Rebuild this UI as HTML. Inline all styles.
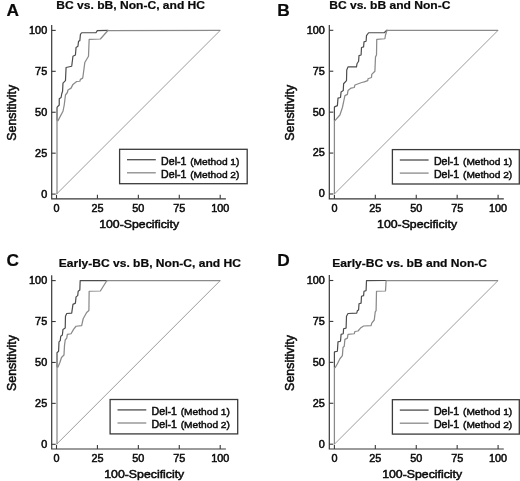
<!DOCTYPE html>
<html><head><meta charset="utf-8"><title>ROC</title>
<style>
html,body{margin:0;padding:0;background:#fff;}
svg{display:block;will-change:transform;}
text{font-family:"Liberation Sans",sans-serif;fill:#0a0a0a;stroke:#0a0a0a;stroke-width:0.5px;}
.tk{font-size:10.5px;}
.al{font-size:11.4px;}
.pl{font-size:17.3px;font-weight:bold;stroke-width:0.2px;}
.tt{font-size:10.7px;font-weight:bold;stroke-width:0.2px;}
.lg{font-size:10.6px;}
.lgs{font-size:9.9px;stroke-width:0.45px;}
</style></head><body>
<svg width="520" height="481" viewBox="0 0 520 481">
<rect width="520" height="481" fill="#fff"/>
<g id="panelA">
<line x1="56.50" y1="194.10" x2="220.20" y2="30.40" stroke="#9c9c9c" stroke-width="1"/>
<polyline points="57.00,120.70 57.00,107.50 57.40,106.90 59.24,105.00 59.24,98.75 61.09,97.50 61.74,93.75 62.58,91.25 62.98,83.10 65.47,80.60 66.07,67.50 71.70,66.25 72.95,56.25 75.44,55.00 76.04,47.50 77.94,46.25 78.53,41.25 79.83,40.60 80.43,34.40 81.67,32.75 95.98,32.75 97.28,30.60 108.34,30.40" fill="none" stroke="#4c4c4c" stroke-width="1.2" stroke-linejoin="round"/>
<polyline points="57.00,194.10 57.00,121.00 58.00,120.60 62.98,111.25 64.23,105.00 65.47,95.00 67.37,92.50 67.97,90.00 71.06,88.10 72.95,84.40 76.69,81.50 79.83,81.25 80.43,79.40 82.67,78.10 83.17,75.00 84.81,62.50 88.50,56.25 89.15,39.40 100.37,39.00 107.25,31.25 107.84,30.50 220.30,30.40" fill="none" stroke="#8a8a8a" stroke-width="1.25" stroke-linejoin="round"/>
<path d="M51.70,25.00 V198.80 H225.90" fill="none" stroke="#383838" stroke-width="1.2"/>
<line x1="51.70" y1="194.10" x2="55.70" y2="194.10" stroke="#383838" stroke-width="1.1"/>
<line x1="56.50" y1="198.80" x2="56.50" y2="194.80" stroke="#383838" stroke-width="1.1"/>
<text class="tk" transform="translate(47.20,197.50) scale(1.035,1)" text-anchor="end">0</text>
<text class="tk" transform="translate(56.50,212.10) scale(1.035,1)" text-anchor="middle">0</text>
<line x1="51.70" y1="153.18" x2="55.70" y2="153.18" stroke="#383838" stroke-width="1.1"/>
<line x1="97.42" y1="198.80" x2="97.42" y2="194.80" stroke="#383838" stroke-width="1.1"/>
<text class="tk" transform="translate(47.20,156.58) scale(1.035,1)" text-anchor="end">25</text>
<text class="tk" transform="translate(97.42,212.10) scale(1.035,1)" text-anchor="middle">25</text>
<line x1="51.70" y1="112.25" x2="55.70" y2="112.25" stroke="#383838" stroke-width="1.1"/>
<line x1="138.35" y1="198.80" x2="138.35" y2="194.80" stroke="#383838" stroke-width="1.1"/>
<text class="tk" transform="translate(47.20,115.65) scale(1.035,1)" text-anchor="end">50</text>
<text class="tk" transform="translate(138.35,212.10) scale(1.035,1)" text-anchor="middle">50</text>
<line x1="51.70" y1="71.32" x2="55.70" y2="71.32" stroke="#383838" stroke-width="1.1"/>
<line x1="179.28" y1="198.80" x2="179.28" y2="194.80" stroke="#383838" stroke-width="1.1"/>
<text class="tk" transform="translate(47.20,74.72) scale(1.035,1)" text-anchor="end">75</text>
<text class="tk" transform="translate(179.28,212.10) scale(1.035,1)" text-anchor="middle">75</text>
<line x1="51.70" y1="30.40" x2="55.70" y2="30.40" stroke="#383838" stroke-width="1.1"/>
<line x1="220.20" y1="198.80" x2="220.20" y2="194.80" stroke="#383838" stroke-width="1.1"/>
<text class="tk" transform="translate(47.20,33.80) scale(1.035,1)" text-anchor="end">100</text>
<text class="tk" transform="translate(220.20,212.10) scale(1.035,1)" text-anchor="middle">100</text>
<text class="al" transform="translate(139.15,228.40) scale(1.08,1)" text-anchor="middle">100-Specificity</text>
<text class="al" style="font-size:12px" transform="translate(16.25,112.85) rotate(-90) scale(1.035,1)" text-anchor="middle">Sensitivity</text>
<rect x="119.60" y="149.30" width="127.6" height="34.4" fill="#fff" stroke="#3a3a3a" stroke-width="1.3"/>
<line x1="127.00" y1="159.70" x2="155.80" y2="159.70" stroke="#4c4c4c" stroke-width="1.3"/>
<text class="lg" x="161.10" y="164.60">Del-1</text>
<text class="lgs" transform="translate(190.20,164.60) scale(1.03,1)">(Method 1)</text>
<line x1="127.00" y1="172.80" x2="155.80" y2="172.80" stroke="#8a8a8a" stroke-width="1.3"/>
<text class="lg" x="161.10" y="177.70">Del-1</text>
<text class="lgs" transform="translate(190.20,177.70) scale(1.03,1)">(Method 2)</text>
</g>
<g id="panelB">
<line x1="334.40" y1="194.00" x2="498.10" y2="30.30" stroke="#9c9c9c" stroke-width="1"/>
<polyline points="334.40,120.70 334.40,107.20 334.50,106.90 337.40,105.60 338.00,98.10 340.50,97.50 341.10,91.90 343.25,90.60 343.60,83.75 346.50,80.60 346.75,70.00 348.00,66.90 356.50,66.90 357.00,63.75 358.60,61.25 359.00,55.60 361.10,55.00 361.50,47.50 363.60,46.90 364.00,41.90 366.10,41.25 366.50,35.60 368.60,32.75 384.25,32.75 386.75,30.30 387.50,30.30" fill="none" stroke="#4c4c4c" stroke-width="1.2" stroke-linejoin="round"/>
<polyline points="334.40,194.00 334.40,121.00 334.90,120.60 339.90,115.00 342.40,107.50 343.60,101.90 344.90,95.60 347.40,94.40 348.00,90.60 351.10,88.10 354.25,87.50 354.90,85.00 361.75,82.50 364.25,81.90 367.75,80.60 368.00,78.75 371.50,77.50 371.75,74.40 374.90,71.25 375.50,56.90 376.50,55.00 376.75,39.40 384.90,38.75 385.50,35.00 386.75,31.00 387.00,30.30 498.10,30.30" fill="none" stroke="#8a8a8a" stroke-width="1.25" stroke-linejoin="round"/>
<path d="M329.30,24.90 V198.80 H503.80" fill="none" stroke="#383838" stroke-width="1.2"/>
<line x1="329.30" y1="194.00" x2="333.30" y2="194.00" stroke="#383838" stroke-width="1.1"/>
<line x1="334.40" y1="198.80" x2="334.40" y2="194.80" stroke="#383838" stroke-width="1.1"/>
<text class="tk" transform="translate(324.80,197.40) scale(1.035,1)" text-anchor="end">0</text>
<text class="tk" transform="translate(334.40,212.10) scale(1.035,1)" text-anchor="middle">0</text>
<line x1="329.30" y1="153.07" x2="333.30" y2="153.07" stroke="#383838" stroke-width="1.1"/>
<line x1="375.32" y1="198.80" x2="375.32" y2="194.80" stroke="#383838" stroke-width="1.1"/>
<text class="tk" transform="translate(324.80,156.47) scale(1.035,1)" text-anchor="end">25</text>
<text class="tk" transform="translate(375.32,212.10) scale(1.035,1)" text-anchor="middle">25</text>
<line x1="329.30" y1="112.15" x2="333.30" y2="112.15" stroke="#383838" stroke-width="1.1"/>
<line x1="416.25" y1="198.80" x2="416.25" y2="194.80" stroke="#383838" stroke-width="1.1"/>
<text class="tk" transform="translate(324.80,115.55) scale(1.035,1)" text-anchor="end">50</text>
<text class="tk" transform="translate(416.25,212.10) scale(1.035,1)" text-anchor="middle">50</text>
<line x1="329.30" y1="71.22" x2="333.30" y2="71.22" stroke="#383838" stroke-width="1.1"/>
<line x1="457.17" y1="198.80" x2="457.17" y2="194.80" stroke="#383838" stroke-width="1.1"/>
<text class="tk" transform="translate(324.80,74.62) scale(1.035,1)" text-anchor="end">75</text>
<text class="tk" transform="translate(457.17,212.10) scale(1.035,1)" text-anchor="middle">75</text>
<line x1="329.30" y1="30.30" x2="333.30" y2="30.30" stroke="#383838" stroke-width="1.1"/>
<line x1="498.10" y1="198.80" x2="498.10" y2="194.80" stroke="#383838" stroke-width="1.1"/>
<text class="tk" transform="translate(324.80,33.70) scale(1.035,1)" text-anchor="end">100</text>
<text class="tk" transform="translate(498.10,212.10) scale(1.035,1)" text-anchor="middle">100</text>
<text class="al" transform="translate(417.05,228.40) scale(1.08,1)" text-anchor="middle">100-Specificity</text>
<text class="al" style="font-size:12px" transform="translate(293.85,112.75) rotate(-90) scale(1.035,1)" text-anchor="middle">Sensitivity</text>
<rect x="392.40" y="149.60" width="126.9" height="34.4" fill="#fff" stroke="#3a3a3a" stroke-width="1.3"/>
<line x1="399.80" y1="160.00" x2="428.60" y2="160.00" stroke="#4c4c4c" stroke-width="1.3"/>
<text class="lg" x="433.90" y="164.90">Del-1</text>
<text class="lgs" transform="translate(463.00,164.90) scale(1.03,1)">(Method 1)</text>
<line x1="399.80" y1="173.10" x2="428.60" y2="173.10" stroke="#8a8a8a" stroke-width="1.3"/>
<text class="lg" x="433.90" y="178.00">Del-1</text>
<text class="lgs" transform="translate(463.00,178.00) scale(1.03,1)">(Method 2)</text>
</g>
<g id="panelC">
<line x1="56.50" y1="444.30" x2="220.20" y2="280.60" stroke="#9c9c9c" stroke-width="1"/>
<polyline points="57.00,367.20 57.00,352.70 58.60,351.25 58.99,341.90 60.24,340.60 60.74,336.25 62.38,335.00 62.98,329.40 65.22,328.10 65.47,316.25 66.72,313.50 71.70,313.10 72.95,304.40 75.44,303.10 76.04,296.90 77.69,295.60 78.19,291.25 79.83,290.00 80.18,280.60 107.45,280.60" fill="none" stroke="#4c4c4c" stroke-width="1.2" stroke-linejoin="round"/>
<polyline points="57.00,444.30 57.00,367.50 58.00,366.90 59.89,362.50 61.49,357.50 63.98,355.00 64.48,345.60 65.22,340.00 66.72,338.10 67.37,334.40 71.06,333.75 73.55,329.40 76.04,326.25 81.67,325.60 83.17,318.75 86.66,312.50 88.90,310.60 89.15,291.25 100.37,291.00 106.60,281.00 106.95,280.60 220.30,280.60" fill="none" stroke="#8a8a8a" stroke-width="1.25" stroke-linejoin="round"/>
<path d="M51.70,275.20 V449.00 H225.90" fill="none" stroke="#383838" stroke-width="1.2"/>
<line x1="51.70" y1="444.30" x2="55.70" y2="444.30" stroke="#383838" stroke-width="1.1"/>
<line x1="56.50" y1="449.00" x2="56.50" y2="445.00" stroke="#383838" stroke-width="1.1"/>
<text class="tk" transform="translate(47.20,447.70) scale(1.035,1)" text-anchor="end">0</text>
<text class="tk" transform="translate(56.50,462.30) scale(1.035,1)" text-anchor="middle">0</text>
<line x1="51.70" y1="403.38" x2="55.70" y2="403.38" stroke="#383838" stroke-width="1.1"/>
<line x1="97.42" y1="449.00" x2="97.42" y2="445.00" stroke="#383838" stroke-width="1.1"/>
<text class="tk" transform="translate(47.20,406.77) scale(1.035,1)" text-anchor="end">25</text>
<text class="tk" transform="translate(97.42,462.30) scale(1.035,1)" text-anchor="middle">25</text>
<line x1="51.70" y1="362.45" x2="55.70" y2="362.45" stroke="#383838" stroke-width="1.1"/>
<line x1="138.35" y1="449.00" x2="138.35" y2="445.00" stroke="#383838" stroke-width="1.1"/>
<text class="tk" transform="translate(47.20,365.85) scale(1.035,1)" text-anchor="end">50</text>
<text class="tk" transform="translate(138.35,462.30) scale(1.035,1)" text-anchor="middle">50</text>
<line x1="51.70" y1="321.52" x2="55.70" y2="321.52" stroke="#383838" stroke-width="1.1"/>
<line x1="179.28" y1="449.00" x2="179.28" y2="445.00" stroke="#383838" stroke-width="1.1"/>
<text class="tk" transform="translate(47.20,324.92) scale(1.035,1)" text-anchor="end">75</text>
<text class="tk" transform="translate(179.28,462.30) scale(1.035,1)" text-anchor="middle">75</text>
<line x1="51.70" y1="280.60" x2="55.70" y2="280.60" stroke="#383838" stroke-width="1.1"/>
<line x1="220.20" y1="449.00" x2="220.20" y2="445.00" stroke="#383838" stroke-width="1.1"/>
<text class="tk" transform="translate(47.20,284.00) scale(1.035,1)" text-anchor="end">100</text>
<text class="tk" transform="translate(220.20,462.30) scale(1.035,1)" text-anchor="middle">100</text>
<text class="al" transform="translate(144.25,478.10) scale(1.08,1)" text-anchor="middle">100-Specificity</text>
<text class="al" style="font-size:12px" transform="translate(16.25,363.05) rotate(-90) scale(1.035,1)" text-anchor="middle">Sensitivity</text>
<rect x="110.10" y="399.50" width="127.6" height="34.4" fill="#fff" stroke="#3a3a3a" stroke-width="1.3"/>
<line x1="117.50" y1="409.90" x2="146.30" y2="409.90" stroke="#4c4c4c" stroke-width="1.3"/>
<text class="lg" x="151.60" y="414.80">Del-1</text>
<text class="lgs" transform="translate(180.70,414.80) scale(1.03,1)">(Method 1)</text>
<line x1="117.50" y1="423.00" x2="146.30" y2="423.00" stroke="#8a8a8a" stroke-width="1.3"/>
<text class="lg" x="151.60" y="427.90">Del-1</text>
<text class="lgs" transform="translate(180.70,427.90) scale(1.03,1)">(Method 2)</text>
</g>
<g id="panelD">
<line x1="334.40" y1="444.20" x2="498.10" y2="280.50" stroke="#9c9c9c" stroke-width="1"/>
<polyline points="334.40,367.70 334.40,352.20 334.50,351.90 337.40,351.25 338.00,341.90 340.50,341.25 341.10,334.40 343.25,333.75 343.60,328.75 346.10,328.10 346.50,316.25 348.00,313.50 356.75,313.10 357.40,310.60 358.60,310.00 359.00,303.75 361.10,303.10 361.50,296.25 363.60,295.60 364.00,291.25 366.10,290.60 366.50,280.60 386.70,280.50" fill="none" stroke="#4c4c4c" stroke-width="1.2" stroke-linejoin="round"/>
<polyline points="334.40,444.20 334.40,368.00 335.25,367.50 337.40,363.75 339.90,358.75 342.40,355.60 343.00,347.50 344.25,346.25 344.90,339.40 347.40,338.10 348.00,334.40 354.25,333.75 354.90,331.50 358.00,331.00 360.50,328.10 363.60,326.00 371.10,325.60 371.75,323.10 374.25,320.00 375.25,311.90 376.10,310.60 376.50,291.25 385.50,291.00 386.10,281.00 386.20,280.50 498.10,280.50" fill="none" stroke="#8a8a8a" stroke-width="1.25" stroke-linejoin="round"/>
<path d="M329.30,275.10 V449.00 H503.80" fill="none" stroke="#383838" stroke-width="1.2"/>
<line x1="329.30" y1="444.20" x2="333.30" y2="444.20" stroke="#383838" stroke-width="1.1"/>
<line x1="334.40" y1="449.00" x2="334.40" y2="445.00" stroke="#383838" stroke-width="1.1"/>
<text class="tk" transform="translate(324.80,447.60) scale(1.035,1)" text-anchor="end">0</text>
<text class="tk" transform="translate(334.40,462.30) scale(1.035,1)" text-anchor="middle">0</text>
<line x1="329.30" y1="403.27" x2="333.30" y2="403.27" stroke="#383838" stroke-width="1.1"/>
<line x1="375.32" y1="449.00" x2="375.32" y2="445.00" stroke="#383838" stroke-width="1.1"/>
<text class="tk" transform="translate(324.80,406.67) scale(1.035,1)" text-anchor="end">25</text>
<text class="tk" transform="translate(375.32,462.30) scale(1.035,1)" text-anchor="middle">25</text>
<line x1="329.30" y1="362.35" x2="333.30" y2="362.35" stroke="#383838" stroke-width="1.1"/>
<line x1="416.25" y1="449.00" x2="416.25" y2="445.00" stroke="#383838" stroke-width="1.1"/>
<text class="tk" transform="translate(324.80,365.75) scale(1.035,1)" text-anchor="end">50</text>
<text class="tk" transform="translate(416.25,462.30) scale(1.035,1)" text-anchor="middle">50</text>
<line x1="329.30" y1="321.42" x2="333.30" y2="321.42" stroke="#383838" stroke-width="1.1"/>
<line x1="457.17" y1="449.00" x2="457.17" y2="445.00" stroke="#383838" stroke-width="1.1"/>
<text class="tk" transform="translate(324.80,324.82) scale(1.035,1)" text-anchor="end">75</text>
<text class="tk" transform="translate(457.17,462.30) scale(1.035,1)" text-anchor="middle">75</text>
<line x1="329.30" y1="280.50" x2="333.30" y2="280.50" stroke="#383838" stroke-width="1.1"/>
<line x1="498.10" y1="449.00" x2="498.10" y2="445.00" stroke="#383838" stroke-width="1.1"/>
<text class="tk" transform="translate(324.80,283.90) scale(1.035,1)" text-anchor="end">100</text>
<text class="tk" transform="translate(498.10,462.30) scale(1.035,1)" text-anchor="middle">100</text>
<text class="al" transform="translate(422.15,478.10) scale(1.08,1)" text-anchor="middle">100-Specificity</text>
<text class="al" style="font-size:12px" transform="translate(293.85,362.95) rotate(-90) scale(1.035,1)" text-anchor="middle">Sensitivity</text>
<rect x="392.40" y="399.70" width="126.9" height="34.4" fill="#fff" stroke="#3a3a3a" stroke-width="1.3"/>
<line x1="399.80" y1="410.10" x2="428.60" y2="410.10" stroke="#4c4c4c" stroke-width="1.3"/>
<text class="lg" x="433.90" y="415.00">Del-1</text>
<text class="lgs" transform="translate(463.00,415.00) scale(1.03,1)">(Method 1)</text>
<line x1="399.80" y1="423.20" x2="428.60" y2="423.20" stroke="#8a8a8a" stroke-width="1.3"/>
<text class="lg" x="433.90" y="428.10">Del-1</text>
<text class="lgs" transform="translate(463.00,428.10) scale(1.03,1)">(Method 2)</text>
</g>
<text class="pl" x="6.5" y="16">A</text>
<text class="pl" x="277.2" y="16">B</text>
<text class="pl" x="6.5" y="266.2">C</text>
<text class="pl" x="277.2" y="266.0">D</text>
<text class="tt" transform="translate(130.7,8.5) scale(1.128,1)" text-anchor="middle">BC vs. bB, Non-C, and HC</text>
<text class="tt" transform="translate(389.8,8.5) scale(1.128,1)" text-anchor="middle">BC vs. bB and Non-C</text>
<text class="tt" transform="translate(149.8,266.6) scale(1.128,1)" text-anchor="middle">Early-BC vs. bB, Non-C, and HC</text>
<text class="tt" transform="translate(409.6,266.6) scale(1.128,1)" text-anchor="middle">Early-BC vs. bB and Non-C</text>
</svg></body></html>
